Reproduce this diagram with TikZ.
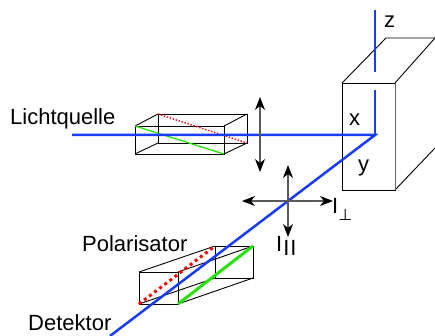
\documentclass[tikz,border=0pt]{standalone}
\usepackage{fontspec}
\setmainfont{Liberation Sans}
\newfontfamily\symfont{DejaVu Sans}
\usetikzlibrary{arrows.meta}
\definecolor{rayblue}{RGB}{25,60,250}
\definecolor{pgreen}{RGB}{40,225,10}
\tikzset{
  >={Stealth[length=13pt,width=10pt,inset=4pt,black,fill=black]},
  lbl/.style={inner sep=0pt,anchor=base west,font=\fontsize{22}{24}\selectfont},
  edge/.style={black,line width=0.9pt},
  ray/.style={draw=rayblue,line width=2.5pt},
  pol/.style={<->,line width=1.2pt,draw=black!65},
  green line/.style={draw=pgreen},
  red line/.style={draw=red}
}
\begin{document}
\begin{tikzpicture}[x=1pt,y=-1pt]
\useasboundingbox (0,0) rectangle (435,336);
% sample box
\coordinate (bfl) at (342,83); \coordinate (bfr) at (395,83);
\coordinate (bbl) at (342,190); \coordinate (bbr) at (395,190);
\coordinate (bk) at (386,38); \coordinate (bkr) at (435,38);
\coordinate (bdr) at (435,38); \coordinate (bdb) at (435,148);
\draw[edge] (bfl) rectangle (bbr);
\draw[edge] (bfl) -- (bk) -- (bkr);
\draw[edge] (bfr) -- (bdr);
\draw[edge] (bbr) -- (bdb);
\draw[black!60,line width=1pt] (bfr) -- (bbr);
% first prism
\coordinate (a1) at (135,126); \coordinate (a2) at (224,126);
\coordinate (a3) at (224,154); \coordinate (a4) at (135,154);
\coordinate (b1) at (158,114); \coordinate (b2) at (247,114);
\coordinate (b3) at (247,143); \coordinate (b4) at (158,143);
\draw[edge] (a1) -- (a2) -- (a3) -- (a4) -- cycle;
\draw[edge] (b1) -- (b2) -- (b3) -- (b4) -- cycle;
\draw[edge] (a1) -- (b1) (a2) -- (b2) (a3) -- (b3) (a4) -- (b4);
\draw[green line,line width=1.3pt] (a1) -- (a3);
\draw[red line,line width=1.4pt,dash pattern=on 1.4pt off 1.7pt] (b1) -- (b3);
% second prism
\coordinate (c1) at (139,272); \coordinate (c2) at (178,272);
\coordinate (c3) at (178,304); \coordinate (c4) at (139,304);
\coordinate (d1) at (215,246); \coordinate (d2) at (253,246);
\coordinate (d3) at (253,278); \coordinate (d4) at (215,278);
\draw[edge] (c1) -- (c2) -- (c3) -- (c4) -- cycle;
\draw[edge] (d1) -- (d2) -- (d3) -- (d4) -- cycle;
\draw[edge] (c1) -- (d1) (c2) -- (d2) (c3) -- (d3) (c4) -- (d4);
\draw[green line,line width=3pt] (c3) -- (d2);
\draw[red line,line width=3pt,dash pattern=on 3pt off 3.4pt] (c4) -- (d1);
% rays
\coordinate (o) at (375,135);
\coordinate (src) at (72,135);
\coordinate (det) at (110,336);
\coordinate (zt) at (375,10); \coordinate (zm) at (375,72); \coordinate (zn) at (375,90);
\draw[ray] (src) -- (o) -- (det);
\draw[ray] (zt) -- (zm);
\draw[ray] (zn) -- (o);
% polarisation arrows
\coordinate (p1) at (260,97); \coordinate (p2) at (260,172);
\coordinate (h1) at (242,201); \coordinate (h2) at (333,201);
\coordinate (v1) at (288,165); \coordinate (v2) at (288,237);
\draw[pol] (p1) -- (p2);
\draw[pol] (h1) -- (h2);
\draw[pol] (v1) -- (v2);
% labels
\node[lbl] (l1) at (10,125) {Lichtquelle};
\node[lbl] (l2) at (82,251) {Polarisator};
\node[lbl] (l3) at (28,330) {Detektor};
\node[lbl] (lx) at (349,126) {x};
\node[lbl] (ly) at (358,172) {y};
\node[lbl] (lz) at (384,28) {z};
\node[lbl] (lp) at (332,214) {I\raisebox{-6pt}{\symfont\fontsize{16}{18}\selectfont ⊥}};
\node[lbl] (lq) at (276,251) {I\raisebox{-4pt}{\kern1pt I\kern1pt I}};
\end{tikzpicture}
\end{document}
